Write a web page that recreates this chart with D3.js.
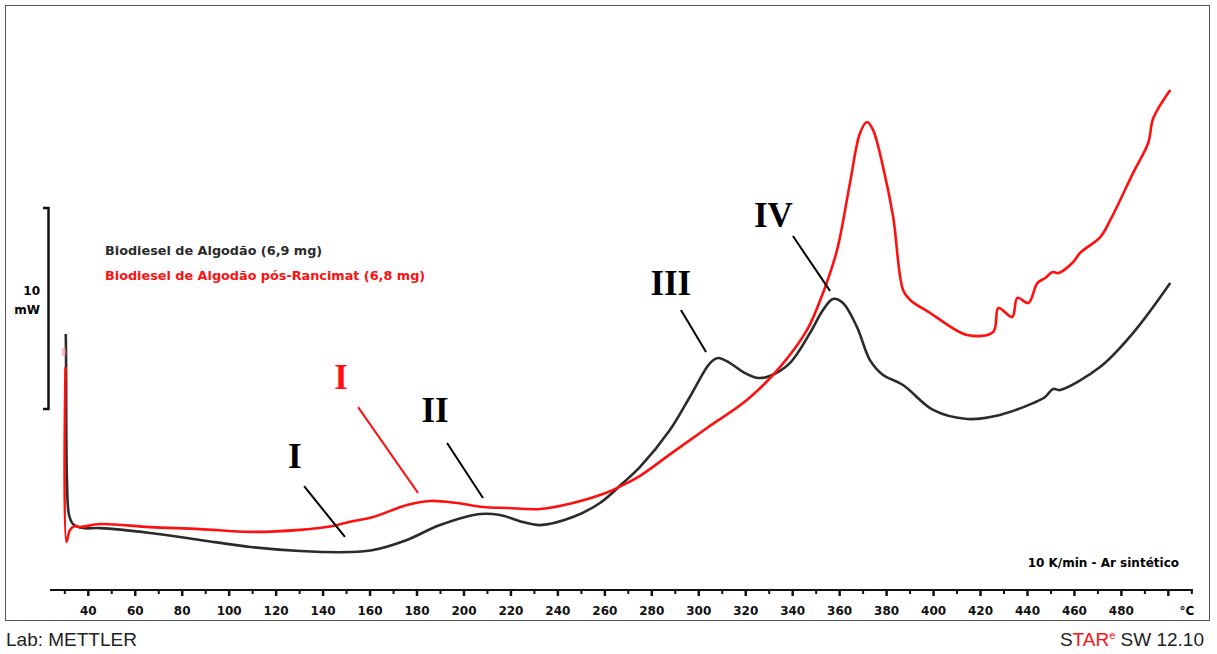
<!DOCTYPE html>
<html>
<head>
<meta charset="utf-8">
<script src="https://cdn.jsdelivr.net/npm/d3@7"></script>
<style>
  body { margin: 0; background: #fff; }
  text { font-family: "DejaVu Sans", Verdana, sans-serif; }
</style>
</head>
<body>
<script>
// temperature (°C) and heat flow (mW, arbitrary offset)
var blackTemp = [30.4, 30.5, 30.9, 31.8, 33.5, 37.7, 45.0, 66.3, 87.6, 108.9, 130.2, 151.5, 161.3, 175.7, 189.8, 206.8, 215.4, 225.2, 232.4, 246.4, 257.9, 267.7, 275.0, 287.7, 296.2, 304.8, 308.2, 313.3, 318.8, 325.2, 330.3, 338.8, 347.4, 352.9, 357.2, 361.4, 367.4, 372.9, 378.5, 387.0, 399.8, 414.3, 428.3, 442.4, 447.5, 450.9, 453.9, 470.9, 485.0, 500.8];
var blackFlow = [12.74, 12.0, 5.47, 3.73, 3.28, 3.08, 3.08, 2.84, 2.49, 2.14, 1.94, 1.89, 1.99, 2.49, 3.23, 3.78, 3.73, 3.38, 3.23, 3.63, 4.33, 5.32, 6.12, 7.96, 9.60, 11.29, 11.54, 11.29, 10.85, 10.55, 10.65, 11.29, 12.79, 13.93, 14.48, 14.28, 13.08, 11.44, 10.70, 10.20, 8.96, 8.51, 8.71, 9.30, 9.60, 10.00, 9.95, 11.09, 12.79, 15.27];

var redTemp = [30.3, 30.7, 32.2, 34.3, 36.5, 45.0, 66.3, 87.6, 108.9, 130.2, 144.2, 151.5, 161.3, 175.7, 185.5, 197.0, 208.1, 218.3, 232.4, 246.4, 260.9, 267.7, 275.0, 288.6, 303.5, 320.5, 334.6, 346.1, 352.9, 358.9, 364.4, 368.7, 371.7, 374.2, 378.5, 382.8, 387.0, 390.0, 398.6, 414.3, 425.4, 427.6, 433.5, 435.7, 440.4, 444.2, 447.6, 450.6, 453.2, 459.5, 462.4, 471.0, 475.3, 485.0, 491.4, 493.6, 500.8];
var redFlow = [11.09, 2.39, 2.99, 3.18, 3.13, 3.28, 3.13, 3.03, 2.89, 2.99, 3.18, 3.40, 3.63, 4.23, 4.43, 4.33, 4.13, 4.08, 4.03, 4.33, 4.85, 5.22, 5.68, 6.82, 8.06, 9.45, 11.09, 12.94, 14.78, 16.92, 20.25, 22.74, 23.28, 22.89, 21.04, 18.56, 14.93, 14.43, 13.78, 12.69, 12.84, 14.03, 13.58, 14.53, 14.28, 15.27, 15.52, 15.82, 15.77, 16.32, 16.77, 17.56, 18.41, 20.75, 22.24, 23.48, 24.88];

var majorTicks = [40, 60, 80, 100, 120, 140, 160, 180, 200, 220, 240, 260, 280, 300, 320, 340, 360, 380, 400, 420, 440, 460, 480, 500];
var minorTicks = [30, 50, 70, 90, 110, 130, 150, 170, 190, 210, 230, 250, 270, 290, 310, 330, 350, 370, 390, 410, 430, 450, 470, 490, 510];
var tickLabels = ["40", "60", "80", "100", "120", "140", "160", "180", "200", "220", "240", "260", "280", "300", "320", "340", "360", "380", "400", "420", "440", "460", "480", ""];

var legendNames = ["Biodiesel de Algodão (6,9 mg)", "Biodiesel de Algodão pós-Rancimat (6,8 mg)"];
var seriesColors = ["#2b2b2b", "#ff1010"];

// peak labels: label anchor, then leader line from -> to (°C, mW)
var peakNames = ["I", "I", "II", "III", "IV"];
var peakColor = [1, 0, 0, 0, 0];
var peakLabelAt = [[147.6, 10.0], [128.0, 6.07], [187.7, 8.36], [288.1, 14.68], [331.8, 18.06]];
var peakLineFrom = [[154.9, 9.10], [131.9, 5.17], [192.8, 7.31], [292.4, 13.93], [340.1, 17.61]];
var peakLineTo = [[180.4, 4.83], [149.3, 2.64], [208.1, 4.58], [303.1, 11.84], [355.9, 14.88]];

var scaleBar = [9, 19]; // 10 mW

var W = 1217, H = 654;

var svg = d3.select("body").append("svg")
  .attr("width", W)
  .attr("height", H);

var x = d3.scaleLinear().domain([40, 480]).range([88.3, 1121.4]);
var y = d3.scaleLinear().domain([0, 10]).range([590, 389]);

// frame
svg.append("rect")
  .attr("x", 5.5).attr("y", 5.5)
  .attr("width", 1204).attr("height", 615)
  .style("fill", "none")
  .style("stroke", "#555")
  .style("stroke-width", 1);

// x axis
var axisY = y(0);
svg.append("line")
  .attr("x1", 50).attr("x2", x(510) + 1)
  .attr("y1", axisY).attr("y2", axisY)
  .style("stroke", "#111").style("stroke-width", 2);

svg.selectAll(".major").data(majorTicks).enter().append("line")
  .attr("x1", function(d) { return x(d); })
  .attr("x2", function(d) { return x(d); })
  .attr("y1", axisY).attr("y2", axisY + 6)
  .style("stroke", "#111").style("stroke-width", 2.5);

svg.selectAll(".minor").data(minorTicks).enter().append("line")
  .attr("x1", function(d) { return x(d); })
  .attr("x2", function(d) { return x(d); })
  .attr("y1", axisY).attr("y2", axisY + 4)
  .style("stroke", "#111").style("stroke-width", 2);

svg.selectAll(".ticklabel").data(majorTicks).enter().append("text")
  .attr("x", function(d) { return x(d); })
  .attr("y", 615)
  .attr("text-anchor", "middle")
  .style("font-size", "12px")
  .style("font-weight", "bold")
  .style("fill", "#111")
  .text(function(d, i) { return tickLabels[i]; });

svg.append("text")
  .attr("x", 1187).attr("y", 615)
  .attr("text-anchor", "middle")
  .style("font-size", "12px").style("font-weight", "bold")
  .text("°C");

// 10 mW scale bar
var sb = d3.path();
sb.moveTo(43, y(scaleBar[1]));
sb.lineTo(48.5, y(scaleBar[1]));
sb.lineTo(48.5, y(scaleBar[0]));
sb.lineTo(43, y(scaleBar[0]));
svg.append("path")
  .attr("d", sb.toString())
  .style("fill", "none")
  .style("stroke", "#111")
  .style("stroke-width", 2.5);

svg.append("text").attr("x", 40).attr("y", 295)
  .attr("text-anchor", "end")
  .style("font-size", "12px").style("font-weight", "bold")
  .text("10");
svg.append("text").attr("x", 40).attr("y", 314)
  .attr("text-anchor", "end")
  .style("font-size", "12px").style("font-weight", "bold")
  .text("mW");

// legend
svg.selectAll(".legend").data(legendNames).enter().append("text")
  .attr("x", 105)
  .attr("y", function(d, i) { return 255 + i * 25; })
  .style("font-size", "12.8px")
  .style("font-weight", "bold")
  .style("fill", function(d, i) { return seriesColors[i]; })
  .text(function(d) { return d; });

svg.append("text")
  .attr("x", 1179).attr("y", 567)
  .attr("text-anchor", "end")
  .style("font-size", "12px").style("font-weight", "bold")
  .text("10 K/min - Ar sintético");

// curves
var line = d3.line()
  .x(function(d) { return x(d[0]); })
  .y(function(d) { return y(d[1]); })
  .curve(d3.curveCatmullRom.alpha(0.5));

var blackData = d3.zip(blackTemp, blackFlow);
var redData = d3.zip(redTemp, redFlow);

svg.append("path")
  .datum(blackData)
  .attr("d", line)
  .style("fill", "none")
  .style("stroke", seriesColors[0])
  .style("stroke-width", 2.6)
  .style("stroke-linejoin", "round");

svg.append("path")
  .datum(redData)
  .attr("d", line)
  .style("fill", "none")
  .style("stroke", seriesColors[1])
  .style("stroke-width", 2.6)
  .style("stroke-linejoin", "round");

// small start marker on the red curve
svg.append("rect")
  .attr("x", x(30) - 2).attr("y", y(11.84) - 3)
  .attr("width", 3).attr("height", 6)
  .style("fill", "none")
  .style("stroke", "#ff6060")
  .style("stroke-width", 0.8);

// peak annotations
peakNames.forEach(function(name, i) {
  var c = seriesColors[peakColor[i]];
  svg.append("line")
    .attr("x1", x(peakLineFrom[i][0])).attr("y1", y(peakLineFrom[i][1]))
    .attr("x2", x(peakLineTo[i][0])).attr("y2", y(peakLineTo[i][1]))
    .style("stroke", peakColor[i] ? c : "#000")
    .style("stroke-width", 2);
  svg.append("text")
    .attr("x", x(peakLabelAt[i][0]))
    .attr("y", y(peakLabelAt[i][1]))
    .attr("text-anchor", "middle")
    .style("font-family", "'Liberation Serif', 'Times New Roman', serif")
    .style("font-size", "35px")
    .style("font-weight", "bold")
    .style("fill", peakColor[i] ? c : "#000")
    .text(name);
});

// footer
svg.append("text")
  .attr("x", 6).attr("y", 646)
  .style("font-family", "'Liberation Sans', Arial, sans-serif")
  .style("font-size", "19px")
  .style("fill", "#222")
  .text("Lab: METTLER");

var star = svg.append("text")
  .attr("x", 1204).attr("y", 646)
  .attr("text-anchor", "end")
  .style("font-family", "'Liberation Sans', Arial, sans-serif")
  .style("font-size", "19px")
  .style("fill", "#222");
star.append("tspan").text("S");
star.append("tspan").style("fill", "#ff1010").text("TAR");
star.append("tspan").style("fill", "#ff1010").style("font-size", "11px").attr("dy", -7).text("e");
star.append("tspan").attr("dy", 7).text(" SW 12.10");
</script>
</body>
</html>
